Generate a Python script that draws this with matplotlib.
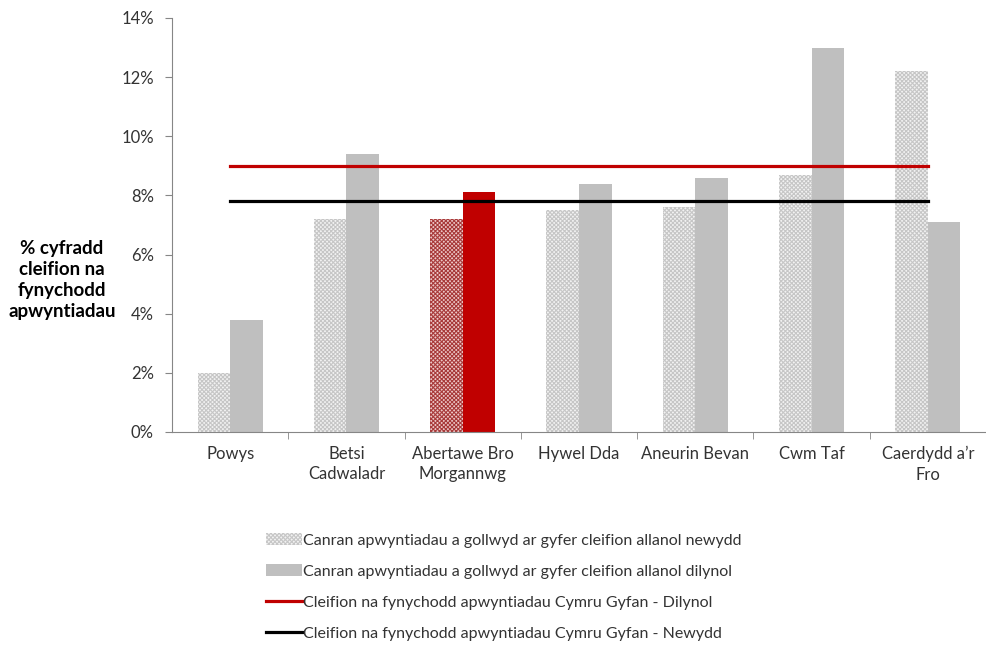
import matplotlib.pyplot as plt
from matplotlib.patches import Patch
from matplotlib.lines import Line2D
from matplotlib.ticker import FuncFormatter

plt.rcParams['font.family'] = ['Lato', 'DejaVu Sans']
plt.rcParams['hatch.linewidth'] = 0.8

categories = ['Powys', 'Betsi\nCadwaladr', 'Abertawe Bro\nMorgannwg', 'Hywel Dda',
              'Aneurin Bevan', 'Cwm Taf', 'Caerdydd a\u2019r\nFro']
newydd = [2.0, 7.2, 7.2, 7.5, 7.6, 8.7, 12.2]     # % new outpatients missed
dilynol = [3.8, 9.4, 8.1, 8.4, 8.6, 13.0, 7.1]    # % follow-up missed
wales_dilynol = 9.0
wales_newydd = 7.8
highlight = 'Abertawe Bro\nMorgannwg'

labels = ['Canran apwyntiadau a gollwyd ar gyfer cleifion allanol newydd',
          'Canran apwyntiadau a gollwyd ar gyfer cleifion allanol dilynol',
          'Cleifion na fynychodd apwyntiadau Cymru Gyfan - Dilynol',
          'Cleifion na fynychodd apwyntiadau Cymru Gyfan - Newydd']

fig = plt.figure(figsize=(9.86, 6.5), dpi=100)
ax = fig.add_axes([172 / 986, 218 / 650, 1 - 172 / 986, 414 / 650])

x = range(len(categories))
w = 0.28
for i, c in enumerate(categories):
    if c == highlight:
        ax.bar(i - w / 2, newydd[i], w, facecolor='#ecc8c8', edgecolor='#a83a3a',
               hatch='xxxxxxxx', linewidth=0)
        ax.bar(i + w / 2, dilynol[i], w, color='#c00000', linewidth=0)
    else:
        ax.bar(i - w / 2, newydd[i], w, facecolor='#f2f2f2', edgecolor='#c6c6c6',
               hatch='xxxxxxxx', linewidth=0)
        ax.bar(i + w / 2, dilynol[i], w, color='#bfbfbf', linewidth=0)

ax.plot([0, len(categories) - 1], [wales_dilynol] * 2, color='#c00000', lw=2.3)
ax.plot([0, len(categories) - 1], [wales_newydd] * 2, color='black', lw=2.3)

ax.set_xlim(-0.5, -0.5 + (986 - 172) / 117.4)
ax.set_ylim(0, 14)
ax.set_yticks(range(0, 15, 2))
ax.yaxis.set_major_formatter(FuncFormatter(lambda v, p: f'{v:.0f}%'))
ax.set_xticks(list(x))
ax.set_xticklabels(categories, fontsize=12, color='#333333', linespacing=1.35)
ax.set_xticks([i + 0.5 for i in range(len(categories))], minor=True)
ax.tick_params(axis='x', which='major', length=0, pad=10)
ax.tick_params(axis='x', which='minor', length=5, color='#868686')
ax.tick_params(axis='y', length=5, color='#868686', labelsize=12, labelcolor='#333333', pad=8)
for s in ['top', 'right']:
    ax.spines[s].set_visible(False)
for s in ['left', 'bottom']:
    ax.spines[s].set_color('#868686')

fig.text(62 / 986, 1 - 280 / 650, '% cyfradd\ncleifion na\nfynychodd\napwyntiadau',
         ha='center', va='center', fontsize=13.5, fontweight='bold', linespacing=1.3)

handles = [Patch(facecolor='#f2f2f2', edgecolor='#c6c6c6', hatch='xxxxxxxx', linewidth=0),
           Patch(facecolor='#bfbfbf', linewidth=0),
           Line2D([], [], color='#c00000', lw=2.3),
           Line2D([], [], color='black', lw=2.3)]
fig.legend(handles, labels, loc='upper left', bbox_to_anchor=(252 / 986, 1 - 519 / 650),
           frameon=False, fontsize=11.5, handlelength=2.2, handletextpad=0.1,
           labelspacing=1.06, labelcolor='#333333')

fig.savefig('out.png', dpi=100)
